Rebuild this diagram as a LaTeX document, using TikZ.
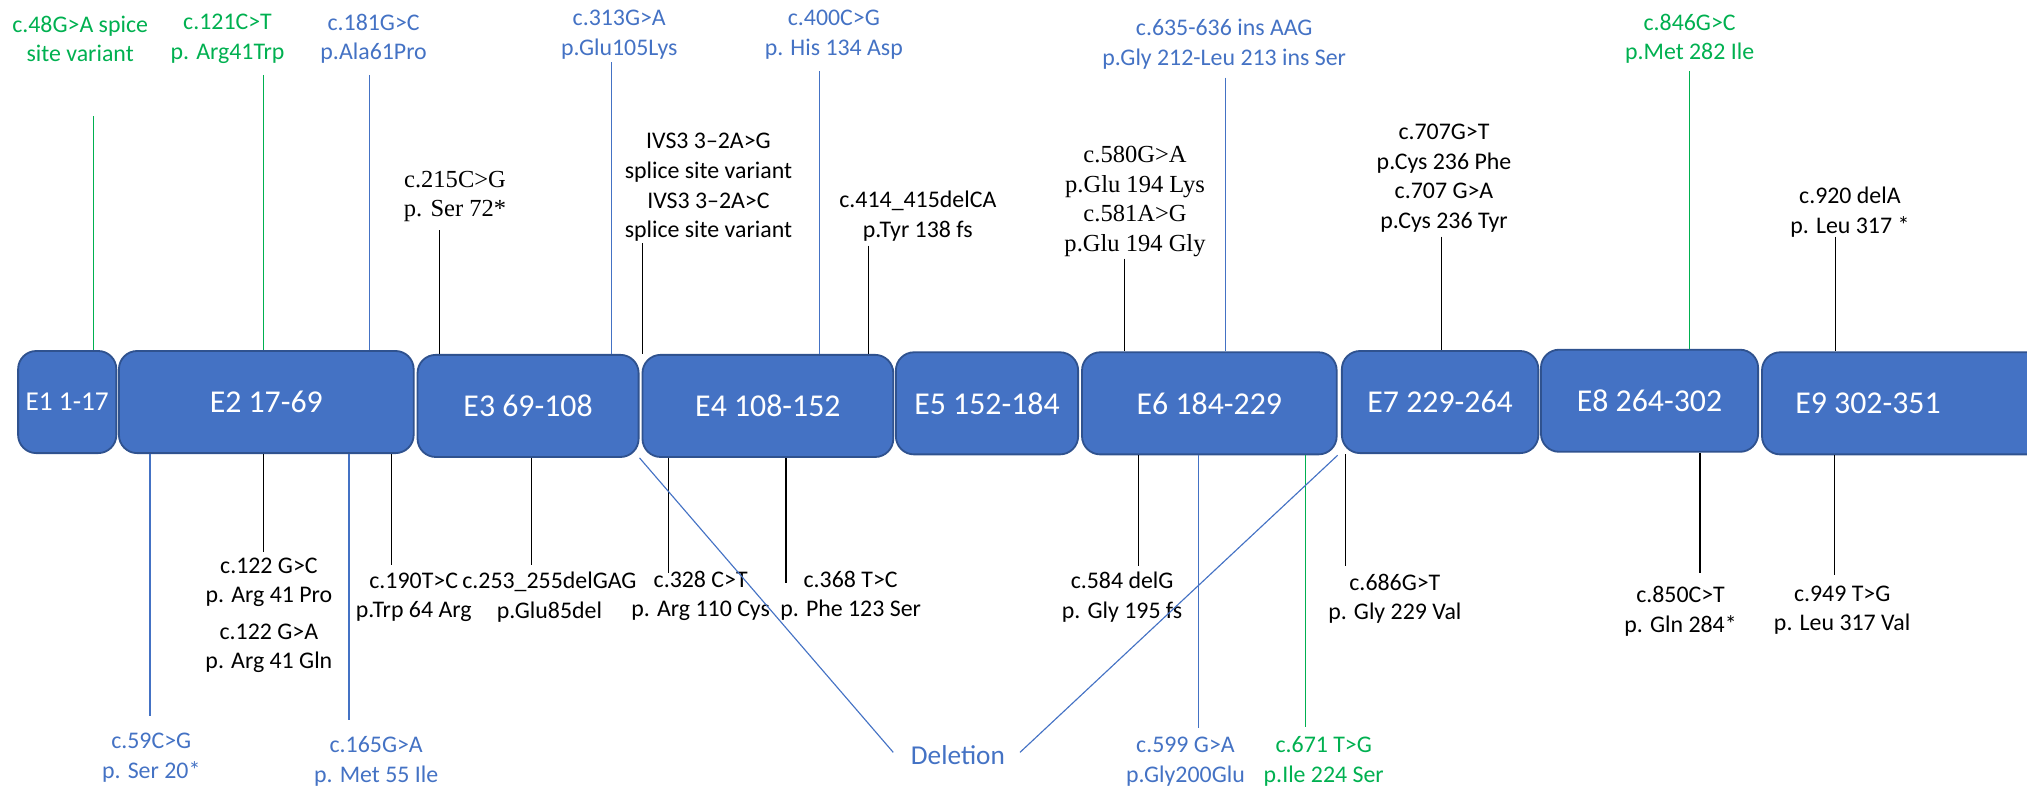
\documentclass[tikz,border=0pt]{standalone}
\usepackage{fontspec}
\setmainfont{Carlito}
\newfontfamily\timesfont{Liberation Serif}
\usetikzlibrary{positioning}
\definecolor{exonfill}{HTML}{4472C4}
\definecolor{exonline}{HTML}{2F528F}
\definecolor{varblue}{HTML}{4472C4}
\definecolor{vargreen}{HTML}{00B050}
\tikzset{
  exon/.style={draw=exonline,fill=exonfill,text=white,rounded corners=8pt,minimum height=1.58cm,inner sep=0pt,line width=0.8pt,font=\fontsize{14}{16}\selectfont},
  exontxt/.style={text=white,font=\fontsize{14}{16}\selectfont},
  vlab/.style={align=center,inner sep=1pt,font=\fontsize{10.5}{13}\selectfont},
  vlabt/.style={vlab,font=\fontsize{10.8}{13}\timesfont},
  bluelab/.style={vlab,text=varblue},
  greenlab/.style={vlab,text=vargreen},
  klink/.style={line width=0.5pt,draw=black},
  blink/.style={line width=0.5pt,draw=varblue},
  glink/.style={line width=0.5pt,draw=vargreen}
}
\begin{document}
\begin{tikzpicture}[x=0.2mm,y=-0.2mm]
  \clip (0,0) rectangle (1568,608);
  % exons
  \node[exon,minimum width=1.52cm,font=\fontsize{12}{14}\selectfont] (e1) at (52,311) {E1 1-17};
  \node[exon,minimum width=4.56cm] (e2) at (206,311) {E2 17-69};
  \node[exon,minimum width=3.42cm] (e3) at (408.5,314) {E3 69-108};
  \node[exon,minimum width=3.88cm] (e4) at (594,314) {E4 108-152};
  \node[exon,minimum width=2.82cm] (e5) at (763.5,312) {E5 152-184};
  \node[exon,minimum width=3.94cm] (e6) at (935.5,312) {E6 184-229};
  \node[exon,minimum width=3.04cm] (e7) at (1114,311) {E7 229-264};
  \node[exon,minimum width=3.36cm] (e8) at (1276,310) {E8 264-302};
  \node[exon,minimum width=4.60cm] (e9) at (1478,312) {};
  \node[exontxt] (e9t) at (1445,312) {E9 302-351};
  % variants above
  \node[greenlab] (v48) at (62,30) {c.48G>A spice\\site variant};
  \coordinate (p48) at (72,90);
  \draw[glink] (p48) -- (p48 |- e1.north);
  \node[greenlab] (v121) at (176,30) {c.121C>T\\p. Arg41Trp};
  \coordinate (p121) at (204,58);
  \draw[glink] (p121) -- (p121 |- e2.north);
  \node[bluelab] (v181) at (289,30) {c.181G>C\\p.Ala61Pro};
  \coordinate (p181) at (286,58);
  \draw[blink] (p181) -- (p181 |- e2.north);
  \node[vlabt] (v215) at (352,152) {c.215C>G\\p. Ser 72*};
  \coordinate (p215) at (340,178);
  \draw[klink] (p215) -- (p215 |- e3.north);
  \node[bluelab] (v313) at (479,27) {c.313G>A\\p.Glu105Lys};
  \coordinate (p313) at (473,48);
  \draw[blink] (p313) -- (p313 |- e3.north);
  \node[vlab] (vivs) at (548,145) {IVS3 3--2A>G\\splice site variant\\IVS3 3--2A>C\\splice site variant};
  \coordinate (pivs) at (497,188);
  \draw[klink] (pivs) -- (pivs |- e4.north);
  \node[bluelab] (v400) at (645,27) {c.400C>G\\p. His 134 Asp};
  \coordinate (p400) at (634,55);
  \draw[blink] (p400) -- (p400 |- e4.north);
  \node[vlab] (v414) at (710,167) {c.414\_415delCA\\p.Tyr 138 fs};
  \coordinate (p414) at (672,190);
  \draw[klink] (p414) -- (p414 |- e4.north);
  \node[vlabt] (v580) at (878,156) {c.580G>A\\p.Glu 194 Lys\\c.581A>G\\p.Glu 194 Gly};
  \coordinate (p580) at (870,200);
  \draw[klink] (p580) -- (p580 |- e6.north);
  \node[bluelab] (v635) at (947,34) {c.635-636 ins AAG\\p.Gly 212-Leu 213 ins Ser};
  \coordinate (p635) at (948,60);
  \draw[blink] (p635) -- (p635 |- e6.north);
  \node[vlab] (v707) at (1117,138) {c.707G>T\\p.Cys 236 Phe\\c.707 G>A\\p.Cys 236 Tyr};
  \coordinate (p707) at (1115,183);
  \draw[klink] (p707) -- (p707 |- e7.north);
  \node[greenlab] (v846) at (1307,30) {c.846G>C\\p.Met 282 Ile};
  \coordinate (p846) at (1307,55);
  \draw[glink] (p846) -- (p846 |- e8.north);
  \node[vlab] (v920) at (1431,164) {c.920 delA\\p. Leu 317 *};
  \coordinate (p920) at (1420,183);
  \draw[klink] (p920) -- (p920 |- e9.north);
  % variants below
  \node[bluelab] (v59) at (117,586) {c.59C>G\\p. Ser 20*};
  \coordinate (p59) at (116,554);
  \draw[blink] (p59 |- e2.south) -- (p59);
  \node[vlab] (v122) at (208,476) {c.122 G>C\\p. Arg 41 Pro\\[3pt]c.122 G>A\\p. Arg 41 Gln};
  \coordinate (p122) at (204,427);
  \draw[klink] (p122 |- e2.south) -- (p122);
  \node[bluelab] (v165) at (291,589) {c.165G>A\\p. Met 55 Ile};
  \coordinate (p165) at (270,557);
  \draw[blink] (p165 |- e2.south) -- (p165);
  \node[vlab] (v190) at (320,462) {c.190T>C\\p.Trp 64 Arg};
  \coordinate (p190) at (303,437);
  \draw[klink] (p190 |- e2.south) -- (p190);
  \node[vlab] (v253) at (425,462) {c.253\_255delGAG\\p.Glu85del};
  \coordinate (p253) at (411,437);
  \draw[klink] (p253 |- e3.south) -- (p253);
  \node[vlab] (v328) at (542,461) {c.328 C>T\\p. Arg 110 Cys};
  \coordinate (p328) at (517,443);
  \draw[klink] (p328 |- e4.south) -- (p328);
  \node[vlab] (v368) at (658,461) {c.368 T>C\\p. Phe 123 Ser};
  \coordinate (p368) at (608,451);
  \draw[klink] (p368 |- e4.south) -- (p368);
  \node[vlab] (v584) at (868,462) {c.584 delG\\p. Gly 195 fs};
  \coordinate (p584) at (881,438);
  \draw[klink] (p584 |- e6.south) -- (p584);
  \node[bluelab] (v599) at (917,589) {c.599 G>A\\p.Gly200Glu};
  \coordinate (p599) at (927,563);
  \draw[blink] (p599 |- e6.south) -- (p599);
  \node[greenlab] (v671) at (1024,589) {c.671 T>G\\p.Ile 224 Ser};
  \coordinate (p671) at (1010,562);
  \draw[glink] (p671 |- e6.south) -- (p671);
  \node[vlab] (v686) at (1079,463) {c.686G>T\\p. Gly 229 Val};
  \coordinate (p686) at (1041,438);
  \draw[klink] (p686 |- e7.south) -- (p686);
  \node[vlab] (v850) at (1300,473) {c.850C>T\\p. Gln 284*};
  \coordinate (p850) at (1315,443);
  \draw[klink] (p850 |- e8.south) -- (p850);
  \node[vlab] (v949) at (1425,472) {c.949 T>G\\p. Leu 317 Val};
  \coordinate (p949) at (1419,445);
  \draw[klink] (p949 |- e9.south) -- (p949);
  % deletion
  \node[bluelab,font=\fontsize{12}{14}\selectfont] (del) at (741,584) {Deletion};
  \coordinate (d1) at (691,582);
  \coordinate (d2) at (789,582);
  \draw[blink] (e3.south east) -- (d1);
  \draw[blink] (e6.south east) -- (d2);
\end{tikzpicture}
\end{document}
